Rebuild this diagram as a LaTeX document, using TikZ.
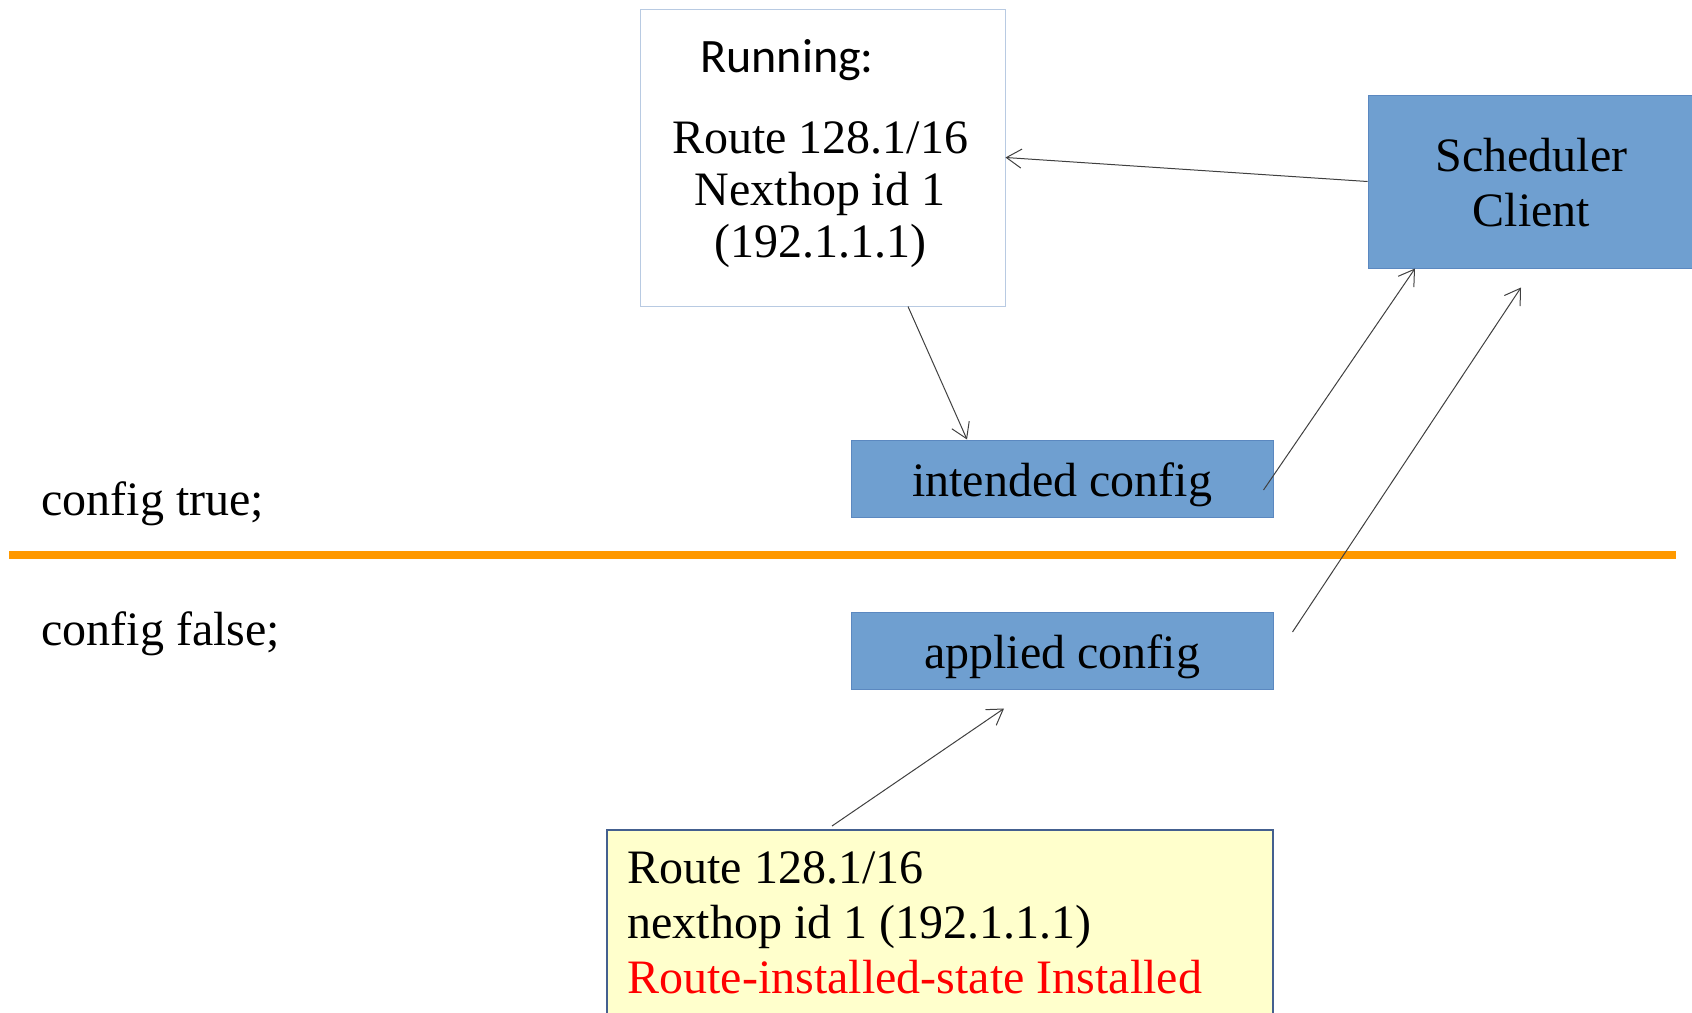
\documentclass[tikz,border=0pt]{standalone}
\usepackage{fontspec}
\setmainfont{Liberation Serif}
\newfontfamily\calibri{Carlito}
\usetikzlibrary{arrows.meta}
\definecolor{boxblue}{HTML}{6F9FD0}
\definecolor{boxedge}{HTML}{5B88C0}
\definecolor{runedge}{HTML}{B8CAE2}
\definecolor{noteyellow}{HTML}{FFFFCC}
\definecolor{noteedge}{HTML}{44608F}
\definecolor{splitorange}{HTML}{FF9900}
\definecolor{arrgray}{HTML}{404040}
\definecolor{statered}{HTML}{FF0000}
\tikzset{
  bluebox/.style={draw=boxedge,line width=0.5pt,fill=boxblue,inner sep=0pt},
  arr/.style={draw=arrgray,line width=0.5pt,-{Straight Barb[length=7.5pt,width=9.5pt]}},
  big/.style={font=\fontsize{24}{27.5}\selectfont,inner sep=0pt}
}

\begin{document}
\begin{tikzpicture}[x=0.5pt,y=-0.5pt]
\useasboundingbox (0,0) rectangle (1692,1012);
\clip (0,0) rectangle (1692,1012);
\draw[splitorange,line width=4pt] (9,555)--(1676,555); % true/false split
\node[big,anchor=base west] (cfgtrue) at (41,515) {config true;}; % upper label
\node[big,anchor=base west] (cfgfalse) at (41,645) {config false;}; % lower label
\node[draw=runedge,line width=0.5pt,minimum width=182.5pt,minimum height=148.5pt] (run) at (822.5,157.5) {}; % running box
\node[big,font=\calibri\fontsize{24}{27.5}\selectfont,anchor=base west] (runhead) at (700,72) {Running:}; % running title
\node[big,font=\fontsize{24}{26}\selectfont,anchor=base] (runroute) at (820,153) {\begin{tabular}[t]{@{}c@{}}Route 128.1/16\\Nexthop id 1\\(192.1.1.1)\end{tabular}}; % running route
\node[bluebox,minimum width=163.5pt,minimum height=86.5pt] (sched) at (1531.5,181.5) {}; % scheduler box
\node[big,anchor=base] (schedtext) at (1531.5,171) {\begin{tabular}[t]{@{}c@{}}Scheduler\\Client\end{tabular}}; % scheduler label
\node[bluebox,big,minimum width=211pt,text height=28pt,text depth=10.5pt] (intended) at (1062,478.5) {intended config}; % intended
\node[bluebox,big,minimum width=211pt,text height=28pt,text depth=10.5pt] (applied) at (1062,650.5) {applied config}; % applied
\node[draw=noteedge,line width=1pt,fill=noteyellow,minimum width=333pt,minimum height=100pt] (inst) at (940,930) {}; % installed box
\node[big,anchor=base west] (insttext) at (627,883) {\begin{tabular}[t]{@{}l@{}}Route 128.1/16\\nexthop id 1 (192.1.1.1)\\\color{statered}Route-installed-state Installed\end{tabular}}; % installed route
\draw[arr] (sched.west) -- (run.east); % scheduler to running
\draw[arr] ([xshift=42.75pt]run.south) -- ([xshift=-47.5pt]intended.north); % running to intended
\draw[arr] ([xshift=-5pt,yshift=-5.75pt]intended.east) -- ([xshift=-58.25pt]sched.south); % intended to scheduler
\draw[arr] ([xshift=9.5pt,yshift=9.25pt]applied.east) -- ([xshift=-5.25pt,yshift=-9.5pt]sched.south); % applied to scheduler
\draw[arr] ([xshift=-54pt,yshift=1.5pt]inst.north) -- ([xshift=-29pt,yshift=-9.5pt]applied.south); % installed to applied
\end{tikzpicture}
\end{document}
